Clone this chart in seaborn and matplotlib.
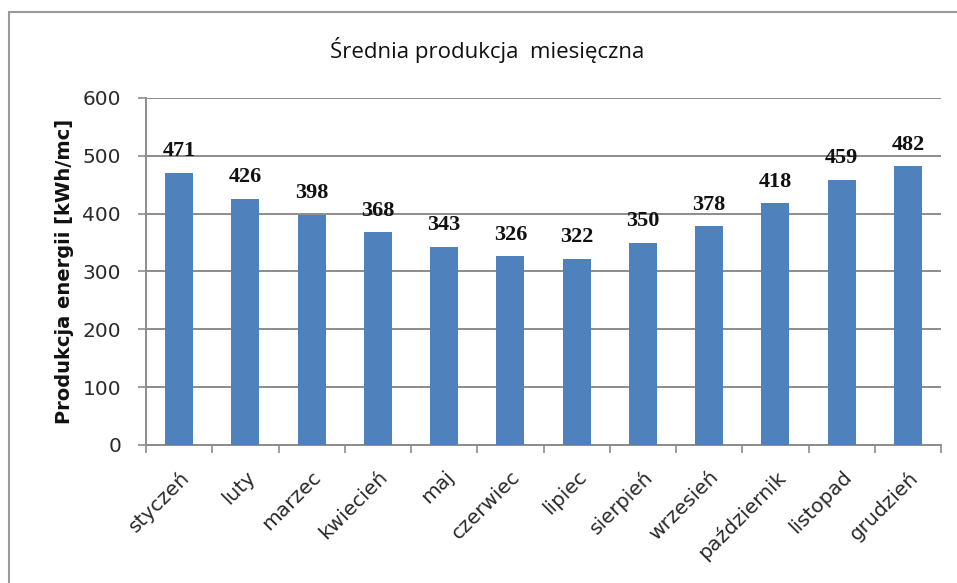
import matplotlib.pyplot as plt
import seaborn as sns
import pandas as pd
from matplotlib.lines import Line2D
from matplotlib.transforms import ScaledTranslation

sns.set_style("white")

months = ["styczeń", "luty", "marzec", "kwiecień", "maj", "czerwiec",
          "lipiec", "sierpień", "wrzesień", "październik", "listopad", "grudzień"]
production = [471, 426, 398, 368, 343, 326, 322, 350, 378, 418, 459, 482]
yTicks = [0, 100, 200, 300, 400, 500, 600]

data = pd.DataFrame({"Miesiac": months, "Produkcja": production})

fig = plt.figure(figsize=(9.57, 5.83), dpi=100)
ax = fig.add_axes([146 / 957, 1 - 445 / 583, (941 - 146) / 957, (445 - 98) / 583])

sns.barplot(x="Miesiac", y="Produkcja", data=data, color="#4F81BD",
            saturation=1, width=0.42, linewidth=0, edgecolor="none",
            ax=ax, zorder=3)

ax.set_ylim(0, 600)
ax.set_xlim(-0.5, len(months) - 0.5)
ax.set_yticks(yTicks)
ax.set_yticklabels([str(t) for t in yTicks], fontsize=14.5, color="#2A2A2A",
                   family="DejaVu Sans")
ax.yaxis.grid(True, color="#8C8C8C", linewidth=1.4, zorder=0)
ax.xaxis.grid(False)

# ticks between categories, labels under bars
ax.set_xticks([i - 0.5 for i in range(len(months) + 1)], minor=False)
ax.set_xticklabels([])
ax.set_xticks(range(len(months)), minor=True)
ax.set_xticklabels(months, minor=True, rotation=45, ha="right",
                   rotation_mode="anchor", fontsize=14.5, color="#2A2A2A",
                   family="DejaVu Sans")
shift = ScaledTranslation(5 / 100, 0, fig.dpi_scale_trans)
for lbl in ax.get_xticklabels(minor=True):
    lbl.set_transform(lbl.get_transform() + shift)
ax.tick_params(axis="x", which="major", direction="out", length=6,
               color="#8C8C8C", width=1.2, bottom=True)
ax.tick_params(axis="x", which="minor", length=0, pad=16)
ax.tick_params(axis="y", direction="out", length=6, color="#8C8C8C",
               width=1.2, left=True, pad=12)

for side in ["top", "right"]:
    ax.spines[side].set_visible(False)
for side in ["left", "bottom"]:
    ax.spines[side].set_color("#8C8C8C")
    ax.spines[side].set_linewidth(1.4)

for i, v in enumerate(production):
    ax.text(i, v + 20, str(v), ha="center", va="bottom", fontsize=16,
            fontweight="bold", family="Liberation Serif", color="#111111")

ax.set_xlabel("")
ax.set_ylabel("Produkcja energii [kWh/mc]", fontsize=14, fontweight="bold",
              family="DejaVu Sans", color="#111111")
ax.yaxis.set_label_coords((74 - 146) / 795, 0.5)

fig.text(487 / 957, 1 - 50 / 583, "Średnia produkcja  miesięczna",
         ha="center", va="center", fontsize=16, family="Open Sans",
         color="#111111")

# outer chart frame
fig.add_artist(Line2D([9 / 957, 9 / 957], [1 - 12 / 583, 0],
                      transform=fig.transFigure, color="#9A9A9A", linewidth=1.5))
fig.add_artist(Line2D([9 / 957, 1], [1 - 12 / 583, 1 - 12 / 583],
                      transform=fig.transFigure, color="#9A9A9A", linewidth=1.5))

fig.savefig("out.png", dpi=100)
